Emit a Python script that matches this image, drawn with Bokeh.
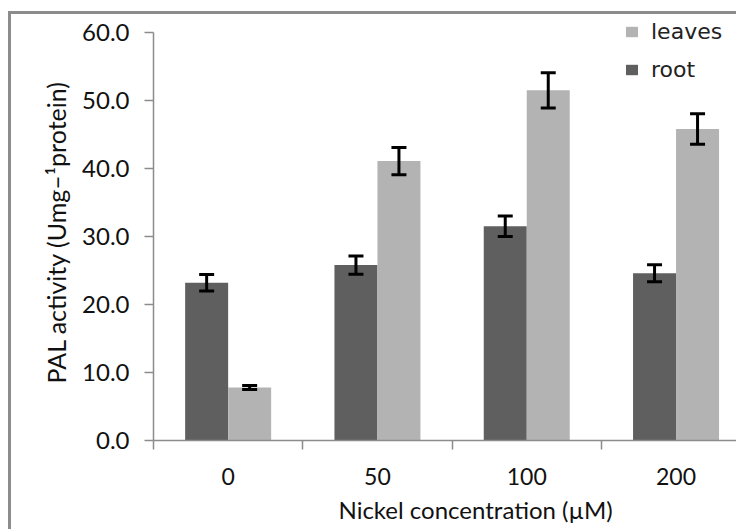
import numpy as np
from bokeh.plotting import figure
from bokeh.models import (ColumnDataSource, Range1d, FixedTicker, Whisker, TeeHead,
                          Legend, LegendItem, Title)
from bokeh.embed import file_html
from bokeh.resources import INLINE

categories = ["0", "50", "100", "200"]
root = [23.2, 25.8, 31.5, 24.6]
root_err = [1.2, 1.35, 1.5, 1.25]
leaves = [7.8, 41.1, 51.5, 45.8]
leaves_err = [0.3, 2.0, 2.6, 2.25]
y_ticks = [0, 10, 20, 30, 40, 50, 60]
y_tick_labels = ["0.0", "10.0", "20.0", "30.0", "40.0", "50.0", "60.0"]

ROOT_COLOR = "#5f5f5f"
LEAF_COLOR = "#b3b3b3"
AXIS_COLOR = "#8c8c8c"
FONT = "Lato"
OFF = 0.144
BW = 0.288

idx = np.arange(len(categories), dtype=float)

p = figure(width=728, height=518, output_backend="svg", toolbar_location=None,
           x_range=Range1d(-0.5, 3.425), y_range=Range1d(0, 62.65),
           min_border_left=142, min_border_right=0, min_border_top=0,
           min_border_bottom=92)
p.styles = {"border-left": "3px solid #8c8c8c", "border-top": "3px solid #8c8c8c",
            "margin-top": "11px", "margin-left": "8px"}
p.outline_line_color = None
p.xgrid.visible = False
p.ygrid.visible = False
p.background_fill_color = "white"
p.border_fill_color = "white"

src_root = ColumnDataSource(dict(x=idx - OFF, top=root,
                                 upper=np.array(root) + np.array(root_err),
                                 lower=np.array(root) - np.array(root_err)))
src_leaf = ColumnDataSource(dict(x=idx + OFF, top=leaves,
                                 upper=np.array(leaves) + np.array(leaves_err),
                                 lower=np.array(leaves) - np.array(leaves_err)))

r_root = p.vbar(x="x", top="top", width=BW, bottom=0, source=src_root,
                fill_color=ROOT_COLOR, line_color=None)
r_leaf = p.vbar(x="x", top="top", width=BW, bottom=0, source=src_leaf,
                fill_color=LEAF_COLOR, line_color=None)

for src in (src_root, src_leaf):
    w = Whisker(base="x", upper="upper", lower="lower", source=src,
                line_color="black", line_width=3, level="overlay",
                upper_head=TeeHead(size=15, line_width=3, line_color="black"),
                lower_head=TeeHead(size=15, line_width=3, line_color="black"))
    p.add_layout(w)

# x axis
xa = p.xaxis[0]
xa.ticker = FixedTicker(ticks=list(idx), minor_ticks=[-0.5] + list(idx[:-1] + 0.5))
xa.major_label_overrides = {int(i): c for i, c in zip(idx, categories)}
xa.major_tick_out = 0
xa.major_tick_in = 0
xa.minor_tick_out = 9
xa.minor_tick_in = 0
xa.minor_tick_line_color = AXIS_COLOR
xa.minor_tick_line_width = 1.5
xa.axis_line_color = AXIS_COLOR
xa.axis_line_width = 1.5
xa.major_label_standoff = 18
xa.major_label_text_font = FONT
xa.major_label_text_font_size = "23px"
xa.major_label_text_color = "#111111"

# y axis
ya = p.yaxis[0]
ya.ticker = FixedTicker(ticks=y_ticks, minor_ticks=[])
ya.bounds = (y_ticks[0], y_ticks[-1])
ya.major_label_overrides = {t: l for t, l in zip(y_ticks, y_tick_labels)}
ya.major_tick_out = 9
ya.major_tick_in = 0
ya.major_tick_line_color = AXIS_COLOR
ya.major_tick_line_width = 1.5
ya.axis_line_color = AXIS_COLOR
ya.axis_line_width = 1.5
ya.major_label_standoff = 15
ya.major_label_text_font = FONT
ya.major_label_text_font_size = "24px"
ya.major_label_text_color = "#111111"

# axis titles
p.add_layout(Title(text="Nickel concentration (µM)", align="left", offset=185,
                   standoff=10, text_font=FONT, text_font_size="24px",
                   text_font_style="normal", text_color="#111111"), "below")
p.add_layout(Title(text="PAL activity (Umg–¹protein)", align="left", offset=57,
                   standoff=17, text_font=FONT, text_font_size="25px",
                   text_font_style="normal", text_color="#111111"), "left")

legend = Legend(items=[LegendItem(label="leaves", renderers=[r_leaf]),
                       LegendItem(label="root", renderers=[r_root])],
                location=(471, 358), orientation="vertical",
                label_text_font="DejaVu Sans", label_text_font_size="22px",
                label_text_color="#222222", glyph_width=15, glyph_height=13,
                label_standoff=12, label_height=22, spacing=13, padding=2, margin=0,
                border_line_color=None, background_fill_color="white",
                background_fill_alpha=1.0)
p.add_layout(legend)

open("out.html", "w").write(file_html(p, INLINE))
